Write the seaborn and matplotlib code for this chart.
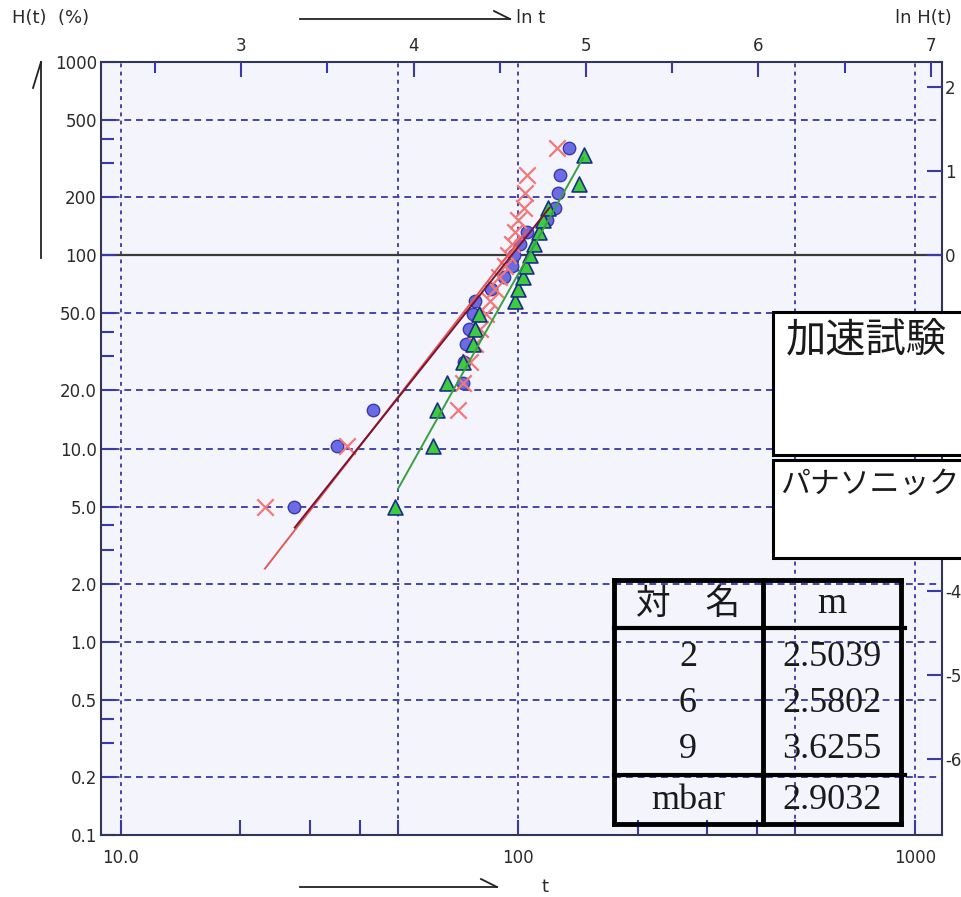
import numpy as np
import matplotlib
matplotlib.use("Agg")
import matplotlib.pyplot as plt
import seaborn as sns
from matplotlib.patches import Rectangle
from matplotlib.lines import Line2D
from matplotlib.ticker import FixedLocator, FixedFormatter, NullFormatter

# ---------------- data ----------------
t_circle = [27.3, 35.0, 43.1, 72.7, 73.3, 73.9, 75.3, 77.0, 78.0, 85.5,
            92.2, 96.8, 97.8, 101.0, 105.5, 118.0, 124.0, 126.1, 127.6, 134.5]
h_circle = [5.0, 10.3, 15.8, 21.7, 27.9, 34.6, 41.7, 49.4, 57.7, 66.8,
            76.8, 87.9, 100.4, 114.7, 131.3, 151.3, 176.3, 209.6, 259.6, 359.6]

t_cross = [23.1, 37.0, 70.6, 72.7, 75.5, 78.0, 80.0, 83.0, 85.0, 87.5,
           89.5, 92.5, 94.4, 96.6, 98.3, 100.0, 103.6, 104.0, 105.2, 125.4]
h_cross = [5.0, 10.3, 15.8, 21.7, 27.9, 34.6, 41.7, 49.4, 57.7, 66.8,
           76.8, 87.9, 100.4, 114.7, 131.3, 151.3, 176.3, 209.6, 259.6, 359.6]

t_tri = [49.0, 61.2, 62.6, 66.1, 72.8, 76.9, 77.9, 79.9, 98.3, 100.2,
         103.1, 104.5, 107.2, 110.0, 113.0, 115.3, 119.0, 142.5, 146.6]
h_tri = [5.0, 10.3, 15.8, 21.7, 27.9, 34.6, 41.7, 49.4, 57.7, 66.8,
         76.8, 87.9, 100.4, 114.7, 131.3, 151.3, 176.3, 233.0, 330.0]

# fitted lines (end points)
fit_circle_t = [27.4, 120.0]
fit_circle_h = [3.9, 176.0]
fit_cross_t = [23.05, 105.0]
fit_cross_h = [2.39, 133.0]
fit_tri_t = [49.9, 145.8]
fit_tri_h = [6.2, 318.0]

# table
table_names = ["2", "6", "9"]
table_m = ["2.5039", "2.5802", "3.6255"]
mbar_value = "2.9032"

# axis ticks
y_ticks = [0.1, 0.2, 0.5, 1, 2, 5, 10, 20, 50, 100, 200, 500, 1000]
y_labels = ["0.1", "0.2", "0.5", "1.0", "2.0", "5.0", "10.0", "20.0", "50.0",
            "100", "200", "500", "1000"]
y_minor = [0.3, 0.4, 3, 4, 30, 40, 300, 400]
x_ticks = [10, 100, 1000]
x_labels = ["10.0", "100", "1000"]
x_minor = [20, 30, 40, 50, 200, 300, 400, 500]
lnt_ticks = [3, 4, 5, 6, 7]
lnt_minor = [2.5, 3.5, 4.5, 5.5, 6.5]
lnh_ticks = [-6, -5, -4, -3, -2, -1, 0, 1, 2]
lnh_labels = ["-6", "-5", "-4", "", "", "", "0", "1", "2"]  # -3..-1 hidden behind boxes
grid_t = [10, 50, 100, 500, 1000]
grid_h = [0.2, 0.5, 1, 2, 5, 10, 20, 50, 200, 500]

# ---------------- styling ----------------
plt.rcParams["axes.unicode_minus"] = False
W, H = 961, 897
TICKFONT = ["DejaVu Sans"]
CJK = ["Noto Sans CJK JP", "DejaVu Sans"]
SERIF = ["Liberation Serif", "DejaVu Serif"]
navy = "#3a3aa6"
gridc = "#4646a8"
labc = "#2a2a2a"

fig = plt.figure(figsize=(W / 100, H / 100), dpi=100)
fig.patch.set_facecolor("white")


def fx(x):
    return x / W


def fy(y):
    return 1 - y / H


ax = fig.add_axes([fx(101), fy(835), (942 - 101) / W, (835 - 62) / H])
ax.set_facecolor("#f4f4fc")
ax.set_xscale("log")
ax.set_yscale("log")
xlo, xhi = 8.906, 1169.5
ax.set_xlim(xlo, xhi)
ax.set_ylim(0.1, 1000)

for t in grid_t:
    ax.axvline(t, color=gridc, lw=1.4, linestyle=(0, (2.0, 2.2)), zorder=1)
for h in grid_h:
    ax.axhline(h, color=gridc, lw=1.4, linestyle=(0, (3.5, 2.5)), zorder=1)
ax.axhline(100, color="#3a3a3a", lw=1.6, zorder=1)

sns.scatterplot(x=t_circle, y=h_circle, ax=ax, marker="o", s=80,
                color="#6b6be6", edgecolor="#3a3aa8", linewidth=1.0, zorder=3)
sns.scatterplot(x=t_cross, y=h_cross, ax=ax, marker="x", s=140,
                color="#f07878", linewidth=1.6, zorder=4)
sns.scatterplot(x=t_tri, y=h_tri, ax=ax, marker="^", s=115,
                color="#3dcc3d", edgecolor="#1a2e88", linewidth=1.2, zorder=5)
sns.lineplot(x=fit_cross_t, y=fit_cross_h, ax=ax, color="#e05a5a", lw=1.4, zorder=6)
sns.lineplot(x=fit_circle_t, y=fit_circle_h, ax=ax, color="#7a1430", lw=1.4, zorder=6)
sns.lineplot(x=fit_tri_t, y=fit_tri_h, ax=ax, color="#3aa040", lw=1.4, zorder=6)

ax.yaxis.set_major_locator(FixedLocator(y_ticks))
ax.yaxis.set_major_formatter(FixedFormatter(y_labels))
ax.yaxis.set_minor_locator(FixedLocator(y_minor))
ax.yaxis.set_minor_formatter(NullFormatter())
ax.xaxis.set_major_locator(FixedLocator(x_ticks))
ax.xaxis.set_major_formatter(FixedFormatter(x_labels))
ax.xaxis.set_minor_locator(FixedLocator(x_minor))
ax.xaxis.set_minor_formatter(NullFormatter())
ax.tick_params(axis="both", which="both", direction="in", color=navy, width=1.5)
ax.tick_params(axis="y", which="major", length=11, pad=3, labelsize=12, labelcolor=labc)
ax.tick_params(axis="y", which="minor", length=9)
ax.tick_params(axis="x", which="major", length=11, pad=10, labelsize=12, labelcolor=labc)
ax.tick_params(axis="x", which="minor", length=11)
for lab in ax.get_xticklabels() + ax.get_yticklabels():
    lab.set_family(TICKFONT)
for sp in ax.spines.values():
    sp.set_color("#34345a")
    sp.set_linewidth(1.5)
ax.set_xlabel("")
ax.set_ylabel("")

# top axis: ln t
axt = ax.twiny()
axt.set_xlim(np.log(xlo), np.log(xhi))
axt.xaxis.set_major_locator(FixedLocator(lnt_ticks))
axt.xaxis.set_minor_locator(FixedLocator(lnt_minor))
axt.xaxis.set_minor_formatter(NullFormatter())
axt.tick_params(axis="x", which="major", direction="in", length=11, width=1.5,
                color=navy, pad=5, labelsize=12, labelcolor=labc)
axt.tick_params(axis="x", which="minor", direction="in", length=8, width=1.5, color=navy)
for lab in axt.get_xticklabels():
    lab.set_family(TICKFONT)
for sp in axt.spines.values():
    sp.set_visible(False)

# right axis: ln H(t)
axr = ax.twinx()
axr.set_ylim(np.log(0.001), np.log(10.0))
axr.yaxis.set_major_locator(FixedLocator(lnh_ticks))
axr.yaxis.set_major_formatter(FixedFormatter(lnh_labels))
axr.tick_params(axis="y", which="major", direction="in", length=11, width=1.5,
                color=navy, pad=2, labelsize=12, labelcolor=labc)
for lab in axr.get_yticklabels():
    lab.set_family(TICKFONT)
for sp in axr.spines.values():
    sp.set_visible(False)

# ---------------- annotations ----------------
txt_kw = dict(family=TICKFONT, color=labc, fontsize=13)
fig.text(fx(12), fy(18), "H(t)  (%)", ha="left", va="center", **txt_kw)
fig.text(fx(516), fy(18), "ln t", ha="left", va="center", **txt_kw)
fig.text(fx(952), fy(18), "ln H(t)", ha="right", va="center", **txt_kw)
fig.text(fx(545), fy(887), "t", ha="center", va="center", **txt_kw)


def seg(x0, y0, x1, y1, lw=1.3, color="#222222"):
    fig.add_artist(Line2D([fx(x0), fx(x1)], [fy(y0), fy(y1)], lw=lw, color=color,
                          transform=fig.transFigure))


seg(300, 19, 510, 19)
seg(494, 11, 510, 19)
seg(300, 887, 497, 887)
seg(481, 879, 497, 887)
seg(41, 62, 41, 258)
seg(41, 62, 33, 88)

# boxes (extend beyond the right edge)
for (y0, y1) in [(312, 455), (460, 558)]:
    fig.add_artist(Rectangle((fx(773), fy(y1)), (1000 - 773) / W, (y1 - y0) / H,
                             transform=fig.transFigure, facecolor="white",
                             edgecolor="black", lw=2.2, zorder=5))
fig.text(fx(786), fy(340), "加速試験", ha="left", va="center", family=CJK,
         fontsize=29, color="#1a1a1a", zorder=6)
fig.text(fx(780), fy(484), "パナソニック", ha="left", va="center", family=CJK,
         fontsize=21.5, color="#1a1a1a", zorder=6)

# table
tl, tm, tr = 614, 763, 901
tt, th, tb9, tb = 580, 628, 775, 824
seg(tl, tt, tr, tt, lw=3.5, color="black")
seg(tl, tb, tr, tb, lw=3.5, color="black")
seg(tl, tt, tl, tb, lw=3.5, color="black")
seg(tr, tt, tr, tb, lw=3.5, color="black")
seg(tm, tt, tm, tb, lw=3.5, color="black")
seg(tl, th, tr + 4, th, lw=3.0, color="black")
seg(tl, tb9, tr + 4, tb9, lw=3.0, color="black")

c1, c2 = 688, 832
fig.text(fx(c1), fy(604), "対　名", ha="center", va="center", family=CJK,
         fontsize=25, color="#1a1a1a")
fig.text(fx(c2), fy(604), "m", ha="center", va="center", family=SERIF,
         fontsize=27, color="#1a1a1a")
row_y = [657, 703, 749]
for name, mval, yy in zip(table_names, table_m, row_y):
    fig.text(fx(c1), fy(yy), name, ha="center", va="center", family=SERIF,
             fontsize=26, color="#1a1a1a")
    fig.text(fx(c2), fy(yy), mval, ha="center", va="center", family=SERIF,
             fontsize=26, color="#1a1a1a")
fig.text(fx(c1), fy(800), "mbar", ha="center", va="center", family=SERIF,
         fontsize=26, color="#1a1a1a")
fig.text(fx(c2), fy(800), mbar_value, ha="center", va="center", family=SERIF,
         fontsize=26, color="#1a1a1a")

fig.savefig("out.png", dpi=100, facecolor="white")
